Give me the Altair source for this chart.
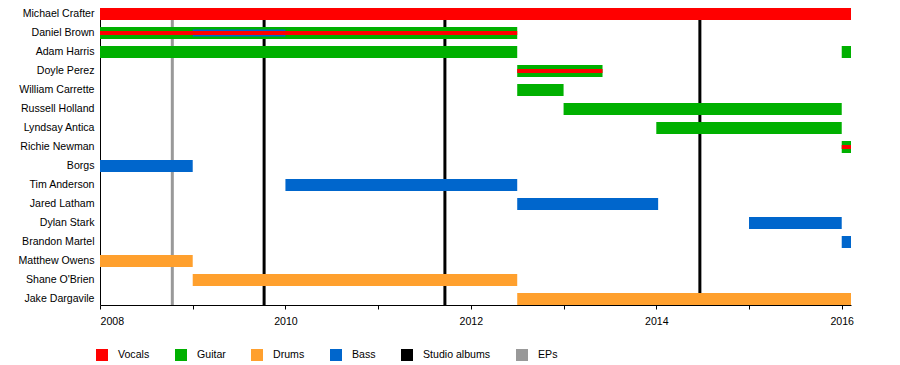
import altair as alt
import pandas as pd

members = [
    "Michael Crafter", "Daniel Brown", "Adam Harris", "Doyle Perez",
    "William Carrette", "Russell Holland", "Lyndsay Antica", "Richie Newman",
    "Borgs", "Tim Anderson", "Jared Latham", "Dylan Stark", "Brandon Martel",
    "Matthew Owens", "Shane O'Brien", "Jake Dargavile",
]
roles = ["Vocals", "Guitar", "Drums", "Bass", "Studio albums", "EPs"]
role_colors = ["#FF0000", "#00B000", "#FFA02E", "#0066CC", "#000000", "#999999"]

# main bars
bar_member = [
    "Michael Crafter", "Daniel Brown", "Adam Harris", "Adam Harris",
    "Doyle Perez", "William Carrette", "Russell Holland", "Lyndsay Antica",
    "Richie Newman", "Borgs", "Tim Anderson", "Jared Latham", "Dylan Stark",
    "Brandon Martel", "Matthew Owens", "Shane O'Brien", "Jake Dargavile",
]
bar_role = [
    "Vocals", "Guitar", "Guitar", "Guitar",
    "Guitar", "Guitar", "Guitar", "Guitar",
    "Guitar", "Bass", "Bass", "Bass", "Bass",
    "Bass", "Drums", "Drums", "Drums",
]
bar_start = [
    2008.0, 2008.0, 2008.0, 2016.0,
    2012.5, 2012.5, 2013.0, 2014.0,
    2016.0, 2008.0, 2010.0, 2012.5, 2015.0,
    2016.0, 2008.0, 2009.0, 2012.5,
]
bar_end = [
    2016.1, 2012.5, 2012.5, 2016.1,
    2013.42, 2013.0, 2016.0, 2016.0,
    2016.1, 2009.0, 2012.5, 2014.02, 2016.0,
    2016.1, 2009.0, 2012.5, 2016.1,
]

# secondary (thinner) bass bars
bass2_member = ["Daniel Brown"]
bass2_start = [2009.0]
bass2_end = [2010.0]

# secondary (thin) vocal bars
voc2_member = ["Daniel Brown", "Doyle Perez", "Richie Newman"]
voc2_start = [2008.0, 2012.5, 2016.0]
voc2_end = [2012.5, 2013.42, 2016.1]

studio_albums = [2009.77, 2011.72, 2014.47]
eps = [2008.78]

x_ticks = list(range(2008, 2017))

main_df = pd.DataFrame({"member": bar_member, "role": bar_role,
                        "start": bar_start, "end": bar_end})
bass_df = pd.DataFrame({"member": bass2_member, "role": ["Bass"] * len(bass2_member),
                        "start": bass2_start, "end": bass2_end})
voc_df = pd.DataFrame({"member": voc2_member, "role": ["Vocals"] * len(voc2_member),
                       "start": voc2_start, "end": voc2_end})
studio_df = pd.DataFrame({"year": studio_albums})
ep_df = pd.DataFrame({"year": eps})

FONT = "Liberation Sans"
FS = 10.6

xscale = alt.Scale(domain=[2008, 2016.1], nice=False, zero=False)
xaxis = alt.Axis(
    title=None, values=x_ticks, format="d",
    labelExpr="datum.value % 2 == 0 ? datum.label : ''",
    grid=False, tickSize=4, labelPadding=7, domainColor="black",
    tickColor="black", labelColor="black", labelFontSize=FS, labelFont=FONT,
)
yscale = alt.Scale(domain=members, paddingInner=0.37, paddingOuter=0)
yaxis = alt.Axis(title=None, ticks=False, labelPadding=6, domainColor="black",
                 labelColor="black", labelFontSize=FS, labelFont=FONT)
color = alt.Color(
    "role:N",
    scale=alt.Scale(domain=roles, range=role_colors),
    legend=alt.Legend(
        orient="none", direction="horizontal", legendX=-4, legendY=341,
        title=None, symbolType="square", symbolSize=144, symbolStrokeWidth=0,
        labelFontSize=FS, labelFont=FONT, labelColor="black", labelOffset=10,
        columnPadding=25, padding=0,
    ),
)

studio_rules = alt.Chart(studio_df).mark_rule(color="black", strokeWidth=3).encode(
    x=alt.X("year:Q", scale=xscale, axis=xaxis)
)
ep_rules = alt.Chart(ep_df).mark_rule(color="#999999", strokeWidth=3).encode(
    x=alt.X("year:Q", scale=xscale, axis=xaxis)
)

bars = alt.Chart(main_df).mark_bar().encode(
    x=alt.X("start:Q", scale=xscale, axis=xaxis),
    x2="end:Q",
    y=alt.Y("member:N", scale=yscale, axis=yaxis, sort=members),
    color=color,
)
bass_bars = alt.Chart(bass_df).mark_bar(height=7).encode(
    x=alt.X("start:Q", scale=xscale, axis=xaxis),
    x2="end:Q",
    y=alt.Y("member:N", scale=yscale, axis=yaxis, sort=members),
    color=color,
)
voc_bars = alt.Chart(voc_df).mark_bar(height=4).encode(
    x=alt.X("start:Q", scale=xscale, axis=xaxis),
    x2="end:Q",
    y=alt.Y("member:N", scale=yscale, axis=yaxis, sort=members),
    color=color,
)

chart = alt.layer(studio_rules, ep_rules, bars, bass_bars, voc_bars).properties(
    width=751, height=297,
    autosize=alt.AutoSizeParams(type="none"),
    padding={"left": 92, "top": 0, "right": 41, "bottom": 60},
    background="white",
).configure_view(stroke=None)

chart.save("out.html", embed_options={"renderer": "svg", "actions": False})
